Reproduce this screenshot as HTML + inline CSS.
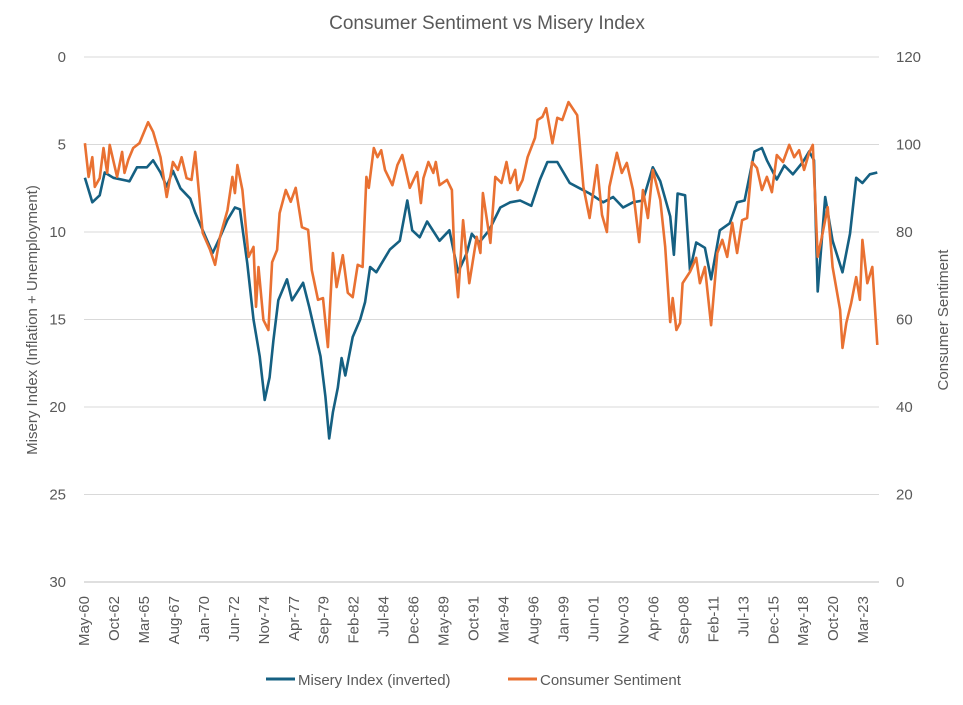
<!DOCTYPE html>
<html><head><meta charset="utf-8"><style>
body{margin:0;background:#fff;}
svg text{font-family:"Liberation Sans",sans-serif;fill:#595959;}
</style></head><body>
<svg width="963" height="700" viewBox="0 0 963 700" id="chart">
<text x="487" y="29" text-anchor="middle" font-size="19">Consumer Sentiment vs Misery Index</text>
<g id="grid"></g>
<g id="yl"></g>
<g id="yr"></g>
<g id="xl"></g>
<text transform="translate(37,320) rotate(-90)" text-anchor="middle" font-size="15">Misery Index (Inflation + Unemployment)</text>
<text transform="translate(948,320) rotate(-90)" text-anchor="middle" font-size="15">Consumer Sentiment</text>
<g id="series"></g>
<g>
<line x1="266" y1="679" x2="295" y2="679" stroke="#156082" stroke-width="3"/>
<text x="298" y="685" font-size="15">Misery Index (inverted)</text>
<line x1="508" y1="679" x2="537" y2="679" stroke="#E97132" stroke-width="3"/>
<text x="540" y="685" font-size="15">Consumer Sentiment</text>
</g>
</svg>
<script>
const miseryDates=[1960.4,1961.0,1961.6,1962.0,1962.7,1964.0,1964.6,1965.4,1965.9,1966.5,1967.0,1967.5,1968.1,1968.9,1969.3,1969.9,1970.7,1971.3,1971.9,1972.5,1972.9,1973.5,1974.0,1974.5,1974.9,1975.3,1975.6,1976.0,1976.7,1977.1,1978.0,1978.5,1979.4,1979.8,1980.1,1980.4,1980.8,1981.1,1981.4,1982.0,1982.6,1983.0,1983.4,1983.9,1984.4,1985.0,1985.8,1986.4,1986.8,1987.4,1988.0,1989.0,1989.8,1990.5,1991.2,1991.6,1992.2,1993.0,1993.9,1994.7,1995.5,1996.4,1997.1,1997.7,1998.5,1999.5,2000.3,2001.1,2002.2,2003.0,2003.8,2004.6,2005.4,2006.2,2006.8,2007.6,2007.9,2008.2,2008.8,2009.2,2009.7,2010.4,2010.9,2011.6,2012.4,2013.0,2013.6,2014.4,2015.0,2015.4,2016.2,2016.8,2017.5,2018.3,2018.8,2019.2,2019.5,2020.1,2020.7,2021.5,2022.1,2022.6,2023.1,2023.7,2024.3];
const miseryValues=[6.9,8.3,7.9,6.6,6.9,7.1,6.3,6.3,5.9,6.6,7.4,6.5,7.5,8.1,8.9,9.9,11.2,10.3,9.3,8.6,8.7,11.8,15.0,17.1,19.6,18.3,16.2,13.9,12.7,13.9,12.9,14.3,17.1,19.4,21.8,20.3,18.9,17.2,18.2,16.0,15.0,14.0,12.0,12.3,11.7,11.0,10.5,8.2,9.9,10.3,9.4,10.5,9.9,12.3,11.2,10.1,10.6,9.9,8.6,8.3,8.2,8.5,7.0,6.0,6.0,7.2,7.5,7.8,8.3,8.0,8.6,8.3,8.2,6.3,7.1,9.1,11.3,7.8,7.9,12.2,10.6,10.9,12.7,9.9,9.5,8.3,8.2,5.4,5.2,5.9,7.0,6.2,6.7,6.0,5.4,5.9,13.4,8.0,10.5,12.3,10.1,6.9,7.2,6.7,6.6];
const sentDates=[1960.4,1960.7,1961.0,1961.2,1961.6,1961.9,1962.2,1962.4,1963.0,1963.4,1963.6,1963.9,1964.3,1964.8,1965.5,1965.9,1966.5,1967.0,1967.5,1967.9,1968.2,1968.6,1969.0,1969.3,1969.9,1970.5,1970.9,1971.3,1971.9,1972.3,1972.5,1972.7,1973.1,1973.6,1974.0,1974.2,1974.4,1974.8,1975.2,1975.5,1975.9,1976.1,1976.6,1977.0,1977.4,1977.9,1978.4,1978.7,1979.2,1979.6,1980.0,1980.4,1980.7,1981.2,1981.6,1982.0,1982.4,1982.8,1983.1,1983.3,1983.7,1984.0,1984.3,1984.6,1985.2,1985.6,1986.0,1986.6,1987.2,1987.5,1987.7,1988.1,1988.5,1988.7,1989.0,1989.6,1990.0,1990.2,1990.5,1990.9,1991.4,1992.0,1992.3,1992.5,1993.1,1993.5,1994.0,1994.4,1994.7,1995.1,1995.3,1995.7,1996.1,1996.7,1996.9,1997.3,1997.6,1998.1,1998.5,1998.9,1999.4,2000.1,2000.6,2001.1,2001.7,2002.1,2002.5,2002.7,2003.3,2003.7,2004.1,2004.6,2005.1,2005.4,2005.8,2006.2,2006.8,2007.2,2007.6,2007.8,2008.1,2008.4,2008.6,2009.2,2009.7,2010.0,2010.4,2010.9,2011.4,2011.8,2012.2,2012.6,2013.0,2013.4,2013.8,2014.2,2014.6,2015.0,2015.4,2015.8,2016.2,2016.7,2017.2,2017.6,2018.0,2018.4,2018.8,2019.1,2019.5,2019.9,2020.3,2020.7,2021.3,2021.5,2021.8,2022.2,2022.6,2022.9,2023.1,2023.5,2023.9,2024.3];
const sentValues=[100.3,92.6,97.1,90.3,92.3,99.2,93.5,99.9,92.6,98.3,93.5,96.5,99.2,100.3,105.1,102.9,97.1,88.0,96.0,94.2,97.1,92.3,91.9,98.3,79.8,75.9,72.5,78.9,85.0,92.6,88.9,95.3,89.6,74.3,76.6,62.9,72.0,59.9,57.6,73.1,75.9,84.3,89.6,86.9,90.1,81.1,80.5,71.3,64.5,64.9,53.7,75.2,67.4,74.7,66.1,65.1,72.5,72.0,92.6,90.1,99.2,97.1,98.7,94.2,90.7,95.3,97.6,90.1,93.7,86.6,92.3,96.0,93.5,96.0,90.7,91.9,89.6,74.3,65.1,82.7,68.3,78.9,75.2,88.9,77.5,92.6,91.2,96.0,91.2,94.2,89.6,91.9,97.1,101.5,105.6,106.3,108.3,100.3,106.1,105.6,109.7,106.7,90.3,83.2,95.3,83.9,80.0,90.3,98.1,93.5,95.8,89.6,77.7,89.6,83.2,94.2,87.3,76.6,59.4,64.9,57.6,59.2,68.3,70.9,74.1,68.3,72.0,58.7,75.2,78.2,74.3,82.1,75.2,82.7,83.2,96.0,94.6,89.6,92.6,89.1,97.6,96.0,99.9,97.1,98.7,94.2,98.1,99.9,74.3,79.8,85.7,72.0,62.2,53.5,59.2,63.8,69.7,64.5,78.2,68.3,72.0,54.2];
const xTickLabels=["May-60","Oct-62","Mar-65","Aug-67","Jan-70","Jun-72","Nov-74","Apr-77","Sep-79","Feb-82","Jul-84","Dec-86","May-89","Oct-91","Mar-94","Aug-96","Jan-99","Jun-01","Nov-03","Apr-06","Sep-08","Feb-11","Jul-13","Dec-15","May-18","Oct-20","Mar-23"];
const leftTicks=[0,5,10,15,20,25,30];
const rightTicks=[120,100,80,60,40,20,0];

const NS="http://www.w3.org/2000/svg";
const X0=84,X1=879,T0=1960.33,T1=2024.44,YT=57,YB=582;
const xs=t=>X0+(t-T0)/(T1-T0)*(X1-X0);
const yL=v=>YT+v/30*(YB-YT);
const yR=v=>YB-v/120*(YB-YT);
function mk(tag,attrs,parent){const e=document.createElementNS(NS,tag);for(const k in attrs)e.setAttribute(k,attrs[k]);parent.appendChild(e);return e;}
const grid=document.getElementById('grid'),yl=document.getElementById('yl'),yr=document.getElementById('yr'),xl=document.getElementById('xl'),ser=document.getElementById('series');
leftTicks.forEach((v,i)=>{
  const g=mk('line',{x1:X0,x2:X1,y1:yL(v),y2:yL(v),stroke:v===30?'#bfbfbf':'#d9d9d9','stroke-width':1},grid);
  
  
  const t=mk('text',{x:66,y:yL(v)+5,'text-anchor':'end','font-size':15},yl);t.textContent=v;
  
  
});
rightTicks.forEach(v=>{
  const t=mk('text',{x:896,y:yR(v)+5,'text-anchor':'start','font-size':15},yr);t.textContent=v;
  
  
});
xTickLabels.forEach((lab,i)=>{
  const x=xs(T0+i*29/12);
  const t=mk('text',{transform:`translate(${x+5},596) rotate(-90)`,'text-anchor':'end','font-size':15},xl);t.textContent=lab;
  
  
});
function path(dates,vals,yf,color,name){
  const d=dates.map((t,i)=>(i?'L':'M')+xs(t).toFixed(1)+','+yf(vals[i]).toFixed(1)).join(' ');
  const p=mk('path',{d:d,fill:'none',stroke:color,'stroke-width':2.6,'stroke-linejoin':'round'},ser);
  
  
}
path(miseryDates,miseryValues,yL,'#156082','misery-line');
path(sentDates,sentValues,yR,'#E97132','sentiment-line');
</script>
</body></html>
